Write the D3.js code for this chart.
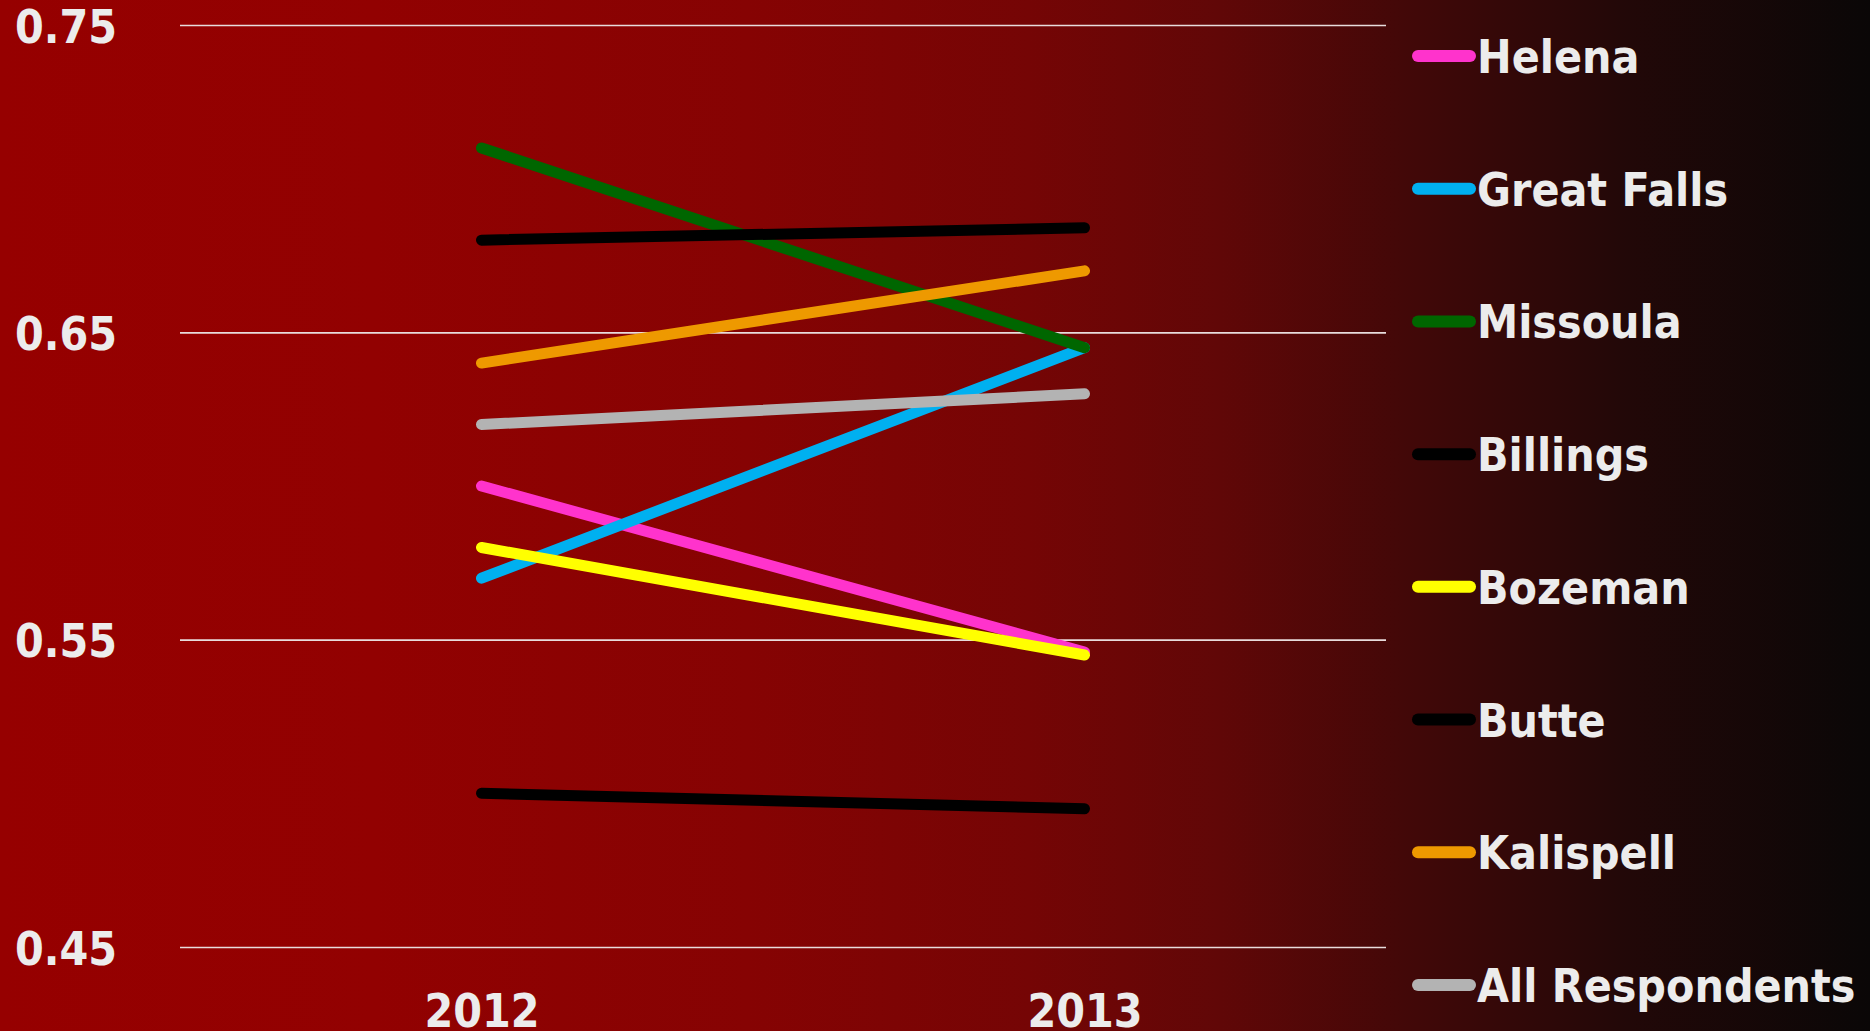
<!DOCTYPE html>
<html>
<head>
<meta charset="utf-8">
<style>
  html, body { margin: 0; padding: 0; background: #0a0808; }
  svg { display: block; }
  text { font-family: "DejaVu Sans Condensed", "DejaVu Sans", sans-serif; font-stretch: condensed; font-weight: bold; fill: #ececec; }
</style>
</head>
<body>
<div id="chart"></div>
<script src="https://d3js.org/d3.v7.min.js"></script>
<script>

const years = ["2012", "2013"];
const cities = ["Helena", "Great Falls", "Missoula", "Billings", "Bozeman", "Butte", "Kalispell", "All Respondents"];
const colors = ["#ff33cc", "#00b0f0", "#006600", "#000000", "#ffff00", "#000000", "#ee9900", "#b3b3b3"];
const helena = [0.600, 0.546];
const greatFalls = [0.570, 0.645];
const missoula = [0.710, 0.645];
const billings = [0.680, 0.684];
const bozeman = [0.580, 0.545];
const butte = [0.500, 0.495];
const kalispell = [0.640, 0.670];
const allRespondents = [0.620, 0.630];
const yTicks = [0.45, 0.55, 0.65, 0.75];

const values = [helena, greatFalls, missoula, billings, bozeman, butte, kalispell, allRespondents];
const series = cities.map((c, i) => ({
  name: c,
  color: colors[i],
  points: years.map((y, j) => ({ year: y, value: values[i][j] }))
}));

const width = 1870, height = 1031;

const svg = d3.select("#chart").append("svg")
  .attr("width", width)
  .attr("height", height);

// background gradient, red to near black
const grad = svg.append("defs").append("linearGradient")
  .attr("id", "bg")
  .attr("x1", "0%").attr("x2", "100%").attr("y1", "0%").attr("y2", "0%");
[[0, "#960000"], [0.2, "#920101"], [0.4, "#860303"], [0.55, "#750505"],
 [0.65, "#610707"], [0.75, "#430808"], [0.87, "#220808"], [1, "#0a0707"]]
  .forEach(s => grad.append("stop").attr("offset", s[0]).attr("stop-color", s[1]));

svg.append("rect").attr("width", width).attr("height", height).attr("fill", "url(#bg)");

const x = d3.scalePoint().domain(years).range([180, 1386]).padding(0.5);
const y = d3.scaleLinear().domain([0.45, 0.75]).range([947, 25]);

// y axis with gridlines
const yAxis = svg.append("g")
  .attr("transform", "translate(180,0)")
  .call(d3.axisLeft(y).tickValues(yTicks).tickFormat(d3.format(".2f"))
    .tickSize(-(1386 - 180)).tickPadding(63));
yAxis.select(".domain").remove();
yAxis.selectAll(".tick line").attr("stroke", "#e8dcdc").attr("stroke-width", 1.6);
yAxis.selectAll(".tick text")
  .attr("font-size", 46)
  .attr("dy", "0.37em")
  .attr("fill", "#ececec")
  .style("font-family", "'DejaVu Sans Condensed', 'DejaVu Sans', sans-serif");

// x axis labels
const xAxis = svg.append("g")
  .attr("transform", "translate(0,1027)")
  .call(d3.axisBottom(x).tickSize(0).tickPadding(0));
xAxis.select(".domain").remove();
xAxis.selectAll(".tick text")
  .attr("font-size", 46)
  .attr("dy", 0)
  .attr("fill", "#ececec")
  .style("font-family", "'DejaVu Sans Condensed', 'DejaVu Sans', sans-serif");

const line = d3.line()
  .x(d => x(d.year))
  .y(d => y(d.value));

svg.append("g")
  .selectAll("path")
  .data(series)
  .join("path")
  .attr("d", d => line(d.points))
  .attr("fill", "none")
  .attr("stroke", d => d.color)
  .attr("stroke-width", 11)
  .attr("stroke-linecap", "round");

// legend
const legendY = d3.scalePoint().domain(cities).range([56, 985]);
const legend = svg.append("g")
  .selectAll("g")
  .data(series)
  .join("g")
  .attr("transform", d => `translate(0,${legendY(d.name)})`);

legend.append("line")
  .attr("x1", 1418).attr("x2", 1470)
  .attr("stroke", d => d.color)
  .attr("stroke-width", 12)
  .attr("stroke-linecap", "round");

legend.append("text")
  .attr("x", 1477)
  .attr("y", 17)
  .attr("font-size", 46)
  .text(d => d.name);

</script>
</body>
</html>
